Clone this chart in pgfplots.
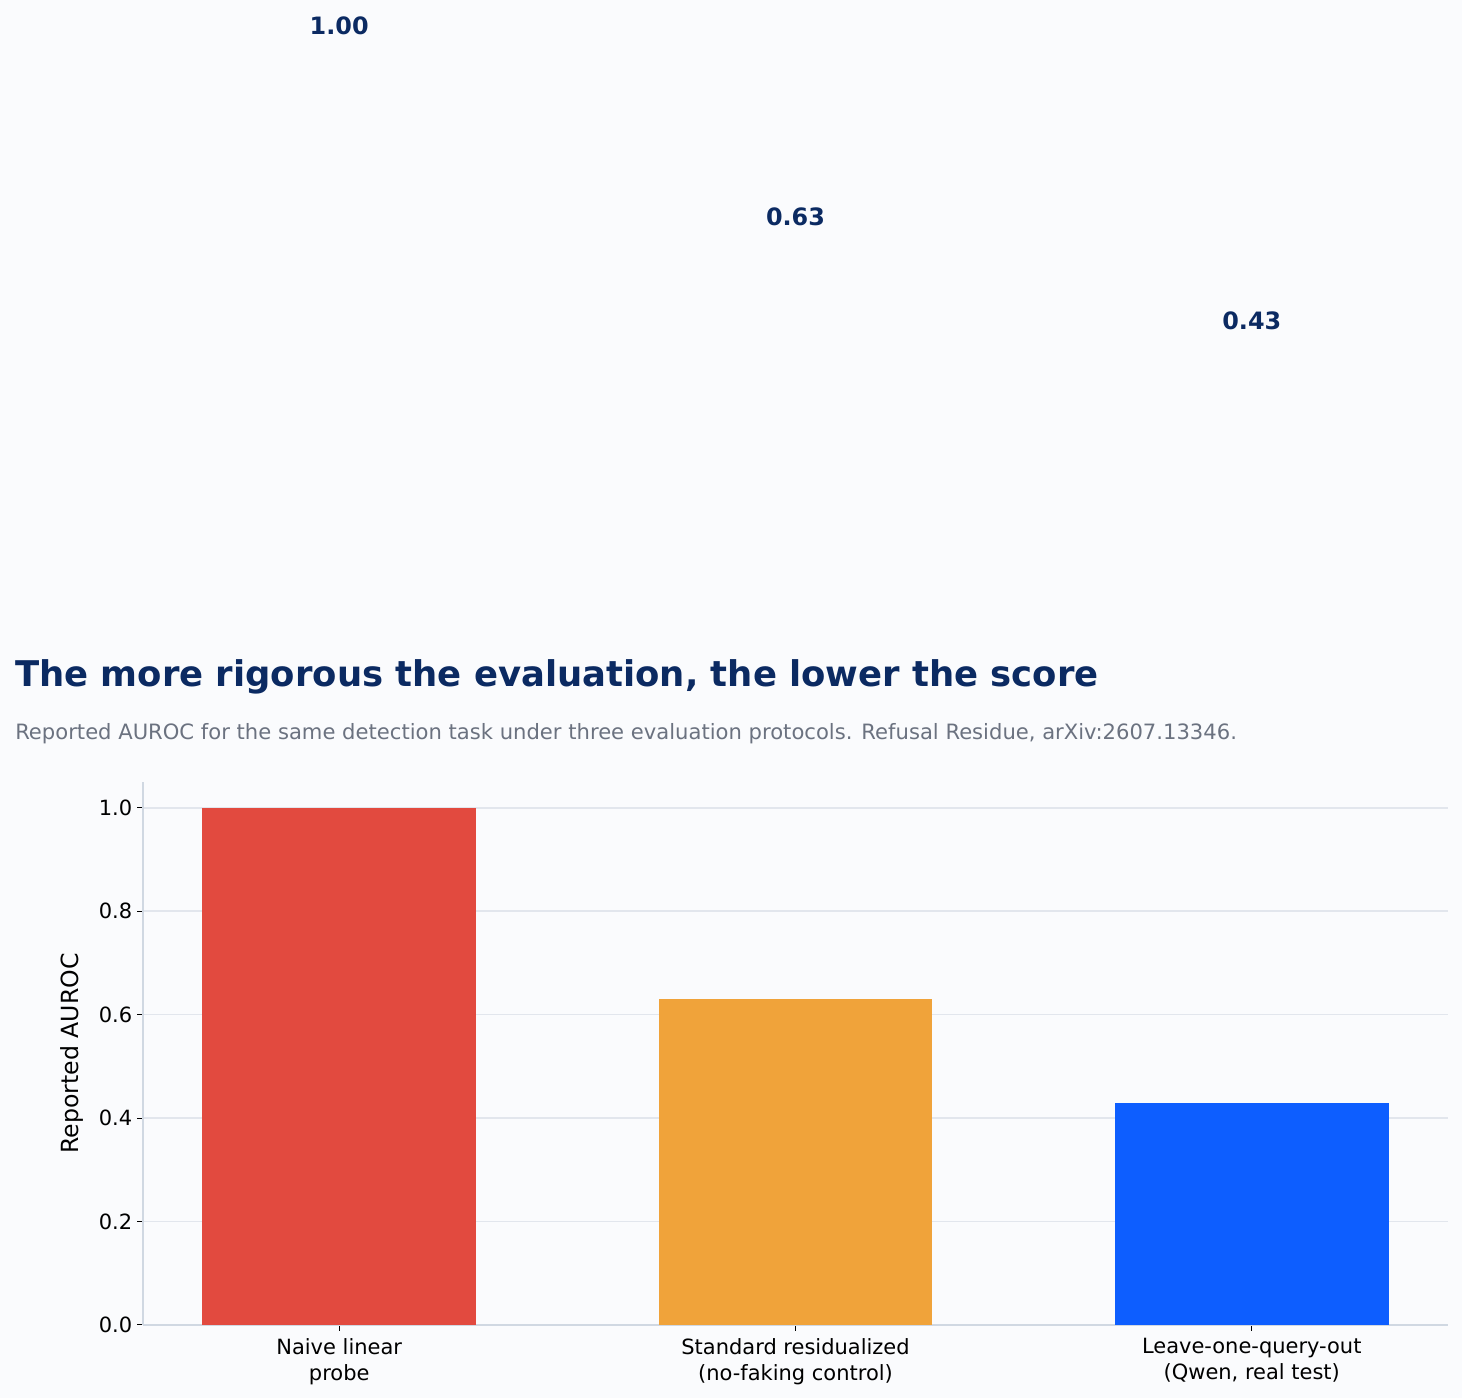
\documentclass[border=0pt]{standalone}
\usepackage{pgfplots}
\pgfplotsset{compat=1.18}
\usepackage{fontspec}
\setmainfont{DejaVu Sans}

\definecolor{bgc}{RGB}{250,251,253}
\definecolor{navy}{RGB}{11,42,98}
\definecolor{subgray}{RGB}{107,114,128}
\definecolor{spinec}{RGB}{208,216,226}
\definecolor{gridc}{RGB}{226,230,237}
\definecolor{barred}{RGB}{226,74,63}
\definecolor{barorange}{RGB}{240,163,58}
\definecolor{barblue}{RGB}{13,94,255}

\begin{document}
\begin{tikzpicture}
% figure background, 1px = 0.72pt
\fill[bgc] (-102.96pt,-52.56pt) rectangle (949.68pt,954pt);
\begin{axis}[
    scale only axis,
    width=939.6pt, height=391pt,
    xmin=-0.43, xmax=2.43,
    ymin=0, ymax=1.05,
    ybar, bar width=0.6, bar shift=0pt,
    axis lines*=left,
    axis line style={-, draw=spinec, line width=1.1pt},
    xtick={0,1,2},
    xticklabels={{Naive linear\\probe}, {Standard residualized\\(no-faking control)}, {Leave-one-query-out\\(Qwen, real test)}},
    xticklabel style={align=center, font=\fontsize{15.1}{18.3}\selectfont, yshift=-2pt},
    ytick={0,0.2,0.4,0.6,0.8,1.0},
    yticklabel style={/pgf/number format/fixed, /pgf/number format/fixed zerofill,
        /pgf/number format/precision=1, font=\fontsize{15.1}{17.5}\selectfont},
    /pgf/number format/assume math mode=true,
    tick align=outside, tick pos=left,
    major tick length=4.3pt,
    tick style={black, line width=0.72pt},
    ymajorgrids,
    grid style={gridc, line width=1.1pt},
    every axis y label/.style={at={(axis description cs:-0.0544,0.5)}, rotate=90, anchor=center,
        font=\fontsize{17}{20}\selectfont},
    ylabel={Reported AUROC},
    clip=false,
    nodes near coords={\pgfmathprintnumber[fixed, fixed zerofill, precision=2, assume math mode=true]{\pgfplotspointmeta}},
    every node near coord/.style={anchor=center, yshift=563pt, text=navy,
        font=\bfseries\fontsize{17.2}{20}\selectfont},
]
\addplot[fill=barred, draw=none] coordinates {(0,1.00)};
\addplot[fill=barorange, draw=none] coordinates {(1,0.63)};
\addplot[fill=barblue, draw=none] coordinates {(2,0.43)};

\node[anchor=base west, text=navy, font=\bfseries\fontsize{25.5}{30}\selectfont, inner sep=0pt]
    at (axis description cs:-0.0981,1.1765) {The more rigorous the evaluation, the lower the score};
\node[anchor=base west, text=subgray, font=\fontsize{15.2}{18}\selectfont, inner sep=0pt]
    at (axis description cs:-0.0981,1.079) {Reported AUROC for the same detection task under three evaluation protocols. Refusal Residue, arXiv:2607.13346.};
\end{axis}
\pgfresetboundingbox
\path[use as bounding box] (-102.96pt,-52.56pt) rectangle (949.68pt,954pt);
\end{tikzpicture}
\end{document}
